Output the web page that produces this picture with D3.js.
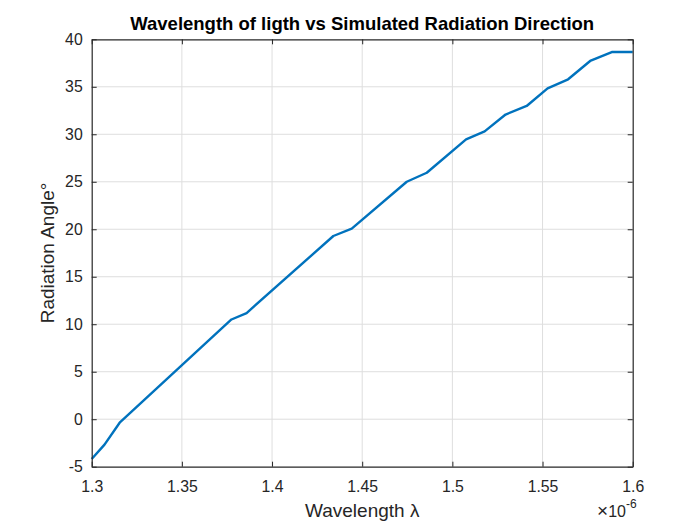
<!DOCTYPE html>
<html>
<head>
<meta charset="utf-8">
<script src="https://cdn.jsdelivr.net/npm/d3@7"></script>
<style>
  body { margin: 0; background: #fff; }
  text { font-family: "Liberation Sans", Arial, Helvetica, sans-serif; fill: #262626; }
</style>
</head>
<body>
<div id="chart"></div>
<script>
// wavelength in micrometres (axis shows x10^-6)
const wavelength = [1.3, 1.3071, 1.3155, 1.3775, 1.3859, 1.4340, 1.4442, 1.4747, 1.4858,
                    1.5076, 1.5179, 1.5295, 1.5412, 1.5528, 1.5642, 1.5764, 1.5884, 1.6];
const angle = [-4.19, -2.68, -0.37, 10.5, 11.18, 19.29, 20.06, 25.0, 25.95,
               29.47, 30.31, 32.08, 32.98, 34.84, 35.79, 37.72, 38.66, 38.66];
const xTicks = [1.3, 1.35, 1.4, 1.45, 1.5, 1.55, 1.6];
const xTickLabels = ["1.3", "1.35", "1.4", "1.45", "1.5", "1.55", "1.6"];
const yTicks = [-5, 0, 5, 10, 15, 20, 25, 30, 35, 40];

const width = 700, height = 525;
const margin = {top: 39.3, right: 67.3, bottom: 58.3, left: 91.7};

const svg = d3.select("#chart").append("svg")
    .attr("width", width)
    .attr("height", height);

const x = d3.scaleLinear().domain([1.3, 1.6]).range([margin.left, width - margin.right]);
const y = d3.scaleLinear().domain([-5, 40]).range([height - margin.bottom, margin.top]);

const data = wavelength.map((w, i) => ({w: w, a: angle[i]}));

// grid
svg.append("g").selectAll("line.vg")
    .data(xTicks.slice(1, -1))
    .enter().append("line")
    .attr("x1", d => x(d)).attr("x2", d => x(d))
    .attr("y1", y(-5)).attr("y2", y(40))
    .attr("stroke", "#dedede").attr("stroke-width", 1);
svg.append("g").selectAll("line.hg")
    .data(yTicks.slice(1, -1))
    .enter().append("line")
    .attr("y1", d => y(d)).attr("y2", d => y(d))
    .attr("x1", x(1.3)).attr("x2", x(1.6))
    .attr("stroke", "#dedede").attr("stroke-width", 1);

// data line
let line = d3.line().x(d => x(d.w)).y(d => y(d.a));
svg.append("path")
    .datum(data)
    .attr("d", line)
    .attr("fill", "none")
    .attr("stroke", "#0072BD")
    .attr("stroke-width", 2.4)
    .attr("stroke-linejoin", "round");

// axes (ticks pointing inwards, box on)
const tickLen = 5;
svg.append("g")
    .attr("transform", `translate(0,${y(-5)})`)
    .call(d3.axisBottom(x).tickValues(xTicks).tickFormat((d, i) => xTickLabels[i]).tickSizeInner(-tickLen).tickSizeOuter(0).tickPadding(14))
    .call(g => g.selectAll("text").attr("font-size", 15.8));
svg.append("g")
    .attr("transform", `translate(0,${y(40)})`)
    .call(d3.axisTop(x).tickValues(xTicks).tickFormat("").tickSizeInner(-tickLen).tickSizeOuter(0));
svg.append("g")
    .attr("transform", `translate(${x(1.3)},0)`)
    .call(d3.axisLeft(y).tickValues(yTicks).tickFormat(d => String(d)).tickSizeInner(-tickLen).tickSizeOuter(0).tickPadding(9))
    .call(g => g.selectAll("text").attr("font-size", 15.8));
svg.append("g")
    .attr("transform", `translate(${x(1.6)},0)`)
    .call(d3.axisRight(y).tickValues(yTicks).tickFormat("").tickSizeInner(-tickLen).tickSizeOuter(0));

svg.selectAll(".domain").attr("stroke", "#262626").attr("stroke-width", 1.2);
svg.selectAll(".tick line").attr("stroke", "#262626");
svg.selectAll(".tick text").style("font-family", "'Liberation Sans', Arial, sans-serif").attr("fill", "#262626");

// title
const cx = (x(1.3) + x(1.6)) / 2;
svg.append("text")
    .attr("x", cx).attr("y", 30)
    .attr("text-anchor", "middle")
    .attr("font-size", 18.5)
    .attr("font-weight", "bold")
    .style("fill", "#000")
    .text("Wavelength of ligth vs Simulated Radiation Direction");

// axis labels
svg.append("text")
    .attr("x", cx).attr("y", 517)
    .attr("text-anchor", "middle")
    .attr("font-size", 19)
    .text("Wavelength λ");

svg.append("text")
    .attr("transform", `translate(54,${(y(-5) + y(40)) / 2}) rotate(-90)`)
    .attr("text-anchor", "middle")
    .attr("font-size", 19)
    .text("Radiation Angle°");

// exponent label
const ex = svg.append("text")
    .attr("x", x(1.6) + 4).attr("y", 517)
    .attr("text-anchor", "end")
    .attr("font-size", 16);
ex.append("tspan").attr("font-size", 19).text("×");
ex.append("tspan").text("10");
ex.append("tspan").attr("dy", -9).attr("font-size", 12).text("-6");
</script>
</body>
</html>
